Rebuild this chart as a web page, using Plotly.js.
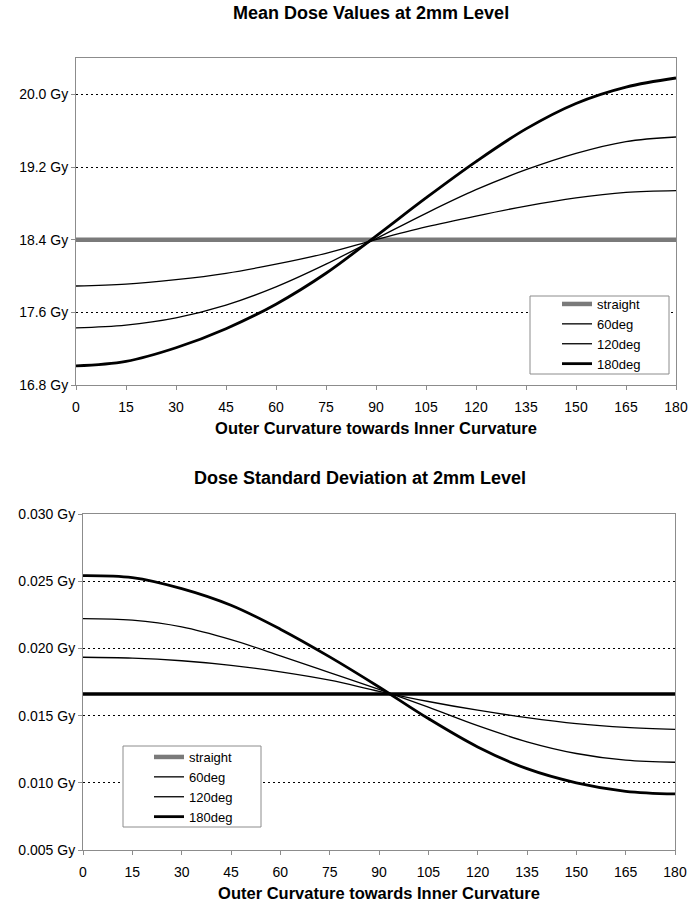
<!DOCTYPE html>
<html><head><meta charset="utf-8">
<script src="https://cdn.plot.ly/plotly-3.0.1.min.js"></script>
<style>html,body{margin:0;padding:0;background:#fff}#chart{width:699px;height:903px}</style>
</head><body><div id="chart"></div>
<script>
// ---- data ----
const angles = [0, 15, 30, 45, 60, 75, 90, 105, 120, 135, 150, 165, 180];
const seriesNames = ['straight', '60deg', '120deg', '180deg'];

const meanStraight = [18.4, 18.4, 18.4, 18.4, 18.4, 18.4, 18.4, 18.4, 18.4, 18.4, 18.4, 18.4, 18.4];
const mean60  = [17.89, 17.91, 17.96, 18.03, 18.13, 18.25, 18.40, 18.54, 18.66, 18.77, 18.86, 18.92, 18.94];
const mean120 = [17.43, 17.46, 17.54, 17.68, 17.88, 18.13, 18.41, 18.69, 18.95, 19.17, 19.35, 19.48, 19.53];
const mean180 = [17.01, 17.06, 17.21, 17.42, 17.69, 18.03, 18.44, 18.86, 19.26, 19.62, 19.90, 20.08, 20.18];

const sdStraight = [0.0166, 0.0166, 0.0166, 0.0166, 0.0166, 0.0166, 0.0166, 0.0166, 0.0166, 0.0166, 0.0166, 0.0166, 0.0166];
const sd60  = [0.01934, 0.01928, 0.01908, 0.01874, 0.01826, 0.01764, 0.01681, 0.01605, 0.01540, 0.01485, 0.01440, 0.01412, 0.01398];
const sd120 = [0.02222, 0.02210, 0.02160, 0.02065, 0.01945, 0.01820, 0.01695, 0.01563, 0.01425, 0.01305, 0.01218, 0.01168, 0.01153];
const sd180 = [0.02542, 0.02527, 0.02445, 0.02321, 0.02143, 0.01937, 0.01713, 0.01478, 0.01267, 0.01105, 0.01000, 0.00937, 0.00917];

const titleTop = 'Mean Dose Values at 2mm Level';
const titleBottom = 'Dose Standard Deviation at 2mm Level';
const xTitle = 'Outer Curvature towards Inner Curvature';

// ---- layout helpers ----
const W = 699, H = 903;
const px = v => v / W;
const py = v => 1 - v / H;
const F = 'Liberation Sans, Arial, sans-serif';

const thin = {color: '#000', width: 1.3, shape: 'spline'};
const thick = {color: '#000', width: 2.8, shape: 'spline'};
const grayThick = {color: '#7a7a7a', width: 4.5};

const traces = [
  {x: angles, y: meanStraight, name: seriesNames[0], mode: 'lines', line: grayThick, xaxis: 'x', yaxis: 'y', legend: 'legend'},
  {x: angles, y: mean60, name: seriesNames[1], mode: 'lines', line: thin, xaxis: 'x', yaxis: 'y', legend: 'legend'},
  {x: angles, y: mean120, name: seriesNames[2], mode: 'lines', line: thin, xaxis: 'x', yaxis: 'y', legend: 'legend'},
  {x: angles, y: mean180, name: seriesNames[3], mode: 'lines', line: thick, xaxis: 'x', yaxis: 'y', legend: 'legend'},

  {x: angles, y: sdStraight, name: seriesNames[0], mode: 'lines', line: {color: '#000', width: 3.5}, xaxis: 'x2', yaxis: 'y2', showlegend: false},
  {x: [null], y: [null], name: seriesNames[0], mode: 'lines', line: grayThick, xaxis: 'x2', yaxis: 'y2', legend: 'legend2'},
  {x: angles, y: sd60, name: seriesNames[1], mode: 'lines', line: thin, xaxis: 'x2', yaxis: 'y2', legend: 'legend2'},
  {x: angles, y: sd120, name: seriesNames[2], mode: 'lines', line: thin, xaxis: 'x2', yaxis: 'y2', legend: 'legend2'},
  {x: angles, y: sd180, name: seriesNames[3], mode: 'lines', line: thick, xaxis: 'x2', yaxis: 'y2', legend: 'legend2'}
];

const axBase = {
  showline: true, mirror: true, linecolor: '#8c8c8c', linewidth: 1,
  ticks: 'outside', ticklen: 4, tickcolor: '#8c8c8c', zeroline: false,
  tickfont: {family: F, size: 14, color: '#000'}, fixedrange: true
};
const xAx = (dom, anchor) => Object.assign({}, axBase, {
  domain: dom, anchor: anchor, range: [0, 180], tick0: 0, dtick: 15, showgrid: false,
  ticklabelstandoff: 5,
  title: {text: xTitle, font: {family: F, size: 16.5, color: '#000', weight: 'bold'}, standoff: 8}
});
const yAx = (dom, anchor, range, dtick, fmt) => Object.assign({}, axBase, {
  domain: dom, anchor: anchor, range: range, tick0: range[0], dtick: dtick,
  tickformat: fmt, ticksuffix: ' Gy',
  showgrid: true, gridcolor: '#000', griddash: '2px,3px', gridwidth: 1
});

const legBase = {
  bgcolor: 'rgba(0,0,0,0)', borderwidth: 0, xanchor: 'left', yanchor: 'top',
  font: {family: F, size: 13, color: '#000'}, tracegroupgap: 0, traceorder: 'normal', itemclick: false
};

const layout = {
  width: W, height: H,
  margin: {l: 0, r: 0, t: 0, b: 0},
  paper_bgcolor: '#fff', plot_bgcolor: '#fff',
  showlegend: true,
  xaxis: xAx([px(76), px(676)], 'y'),
  yaxis: yAx([py(385), py(58)], 'x', [16.8, 20.4], 0.8, '.1f'),
  xaxis2: xAx([px(83), px(675)], 'y2'),
  yaxis2: yAx([py(850), py(514)], 'x2', [0.005, 0.030], 0.005, '.3f'),
  legend: Object.assign({}, legBase, {x: px(557), y: py(289)}),
  legend2: Object.assign({}, legBase, {x: px(149), y: py(742)}),
  shapes: [
    {type: 'rect', xref: 'paper', yref: 'paper', x0: px(530), x1: px(669), y0: py(374), y1: py(296),
     fillcolor: '#fff', line: {color: '#8c8c8c', width: 1}, layer: 'above'},
    {type: 'rect', xref: 'paper', yref: 'paper', x0: px(123), x1: px(261), y0: py(827), y1: py(746),
     fillcolor: '#fff', line: {color: '#8c8c8c', width: 1}, layer: 'above'}
  ],
  annotations: [
    {text: titleTop, xref: 'paper', yref: 'paper', x: px(371), y: py(13), xanchor: 'center', yanchor: 'middle',
     showarrow: false, font: {family: F, size: 18, color: '#000', weight: 'bold'}},
    {text: titleBottom, xref: 'paper', yref: 'paper', x: px(360), y: py(478), xanchor: 'center', yanchor: 'middle',
     showarrow: false, font: {family: F, size: 18, color: '#000', weight: 'bold'}}
  ]
};

Plotly.newPlot('chart', traces, layout, {displayModeBar: false, staticPlot: true});
</script>
</body></html>
